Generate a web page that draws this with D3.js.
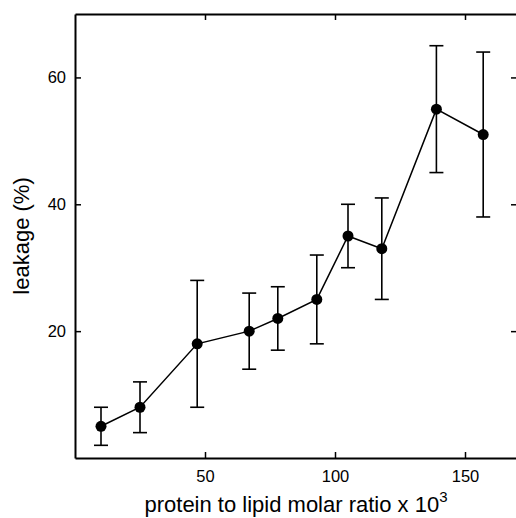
<!DOCTYPE html>
<html>
<head>
<meta charset="utf-8">
<script src="https://cdn.jsdelivr.net/npm/d3@7"></script>
<style>
  html, body { margin: 0; padding: 0; background: #fff; }
  svg { display: block; font-family: "Liberation Sans", Arial, sans-serif; }
</style>
</head>
<body>
<div id="chart"></div>
<script>
// leakage vs protein/lipid ratio, points with error bars
const ratio   = [10, 25, 47, 67, 78, 93, 105, 118, 139, 157];
const leakage = [5, 8, 18, 20, 22, 25, 35, 33, 55, 51];
const errHigh = [8, 12, 28, 26, 27, 32, 40, 41, 65, 64];
const errLow  = [2, 4, 8, 14, 17, 18, 30, 25, 45, 38];
const xTicks = [50, 100, 150];
const yTicks = [20, 40, 60];

const width = 516, height = 518;
const margin = { top: 14, right: -1, bottom: 60, left: 75 };

const points = ratio.map((r, i) => ({ x: r, y: leakage[i], hi: errHigh[i], lo: errLow[i] }));

const x = d3.scaleLinear().domain([0, 170]).range([margin.left, width - margin.right]);
const y = d3.scaleLinear().domain([0, 70]).range([height - margin.bottom, margin.top]);

const svg = d3.select('#chart').append('svg')
  .attr('width', width)
  .attr('height', height);

const tickLen = 6;

// axes, ticks pointing inward on every side
svg.append('g')
  .attr('transform', `translate(0,${y(0)})`)
  .call(d3.axisBottom(x).tickValues(xTicks).tickSizeInner(-tickLen).tickSizeOuter(0).tickPadding(12))
  .call(g => g.selectAll('text').attr('font-size', 16.5).attr('fill', '#000').attr('font-family', null));

svg.append('g')
  .attr('transform', `translate(0,${y(70)})`)
  .call(d3.axisTop(x).tickValues(xTicks).tickSizeInner(-tickLen).tickSizeOuter(0).tickFormat(''));

svg.append('g')
  .attr('transform', `translate(${x(0)},0)`)
  .call(d3.axisLeft(y).tickValues(yTicks).tickSizeInner(-tickLen).tickSizeOuter(0).tickPadding(9))
  .call(g => g.selectAll('text').attr('font-size', 16.5).attr('fill', '#000').attr('font-family', null));

svg.append('g')
  .attr('transform', `translate(${x(170)},0)`)
  .call(d3.axisRight(y).tickValues(yTicks).tickSizeInner(-tickLen).tickSizeOuter(0).tickFormat(''));

svg.selectAll('.domain').attr('stroke', '#000').attr('stroke-width', 2);
svg.selectAll('.tick line').attr('stroke', '#000').attr('stroke-width', 1.5);

// error bars
const capW = 7;
const bars = svg.append('g').attr('stroke', '#000').attr('stroke-width', 1.6);
bars.selectAll('line.err').data(points).join('line')
  .attr('class', 'err')
  .attr('x1', d => x(d.x)).attr('x2', d => x(d.x))
  .attr('y1', d => y(d.lo)).attr('y2', d => y(d.hi));
bars.selectAll('line.cap-hi').data(points).join('line')
  .attr('class', 'cap-hi')
  .attr('x1', d => x(d.x) - capW).attr('x2', d => x(d.x) + capW)
  .attr('y1', d => y(d.hi)).attr('y2', d => y(d.hi));
bars.selectAll('line.cap-lo').data(points).join('line')
  .attr('class', 'cap-lo')
  .attr('x1', d => x(d.x) - capW).attr('x2', d => x(d.x) + capW)
  .attr('y1', d => y(d.lo)).attr('y2', d => y(d.lo));

// connecting line
const line = d3.line().x(d => x(d.x)).y(d => y(d.y));
svg.append('path')
  .datum(points)
  .attr('fill', 'none')
  .attr('stroke', '#000')
  .attr('stroke-width', 1.5)
  .attr('d', line);

// markers
svg.append('g').selectAll('circle').data(points).join('circle')
  .attr('cx', d => x(d.x))
  .attr('cy', d => y(d.y))
  .attr('r', 5.5)
  .attr('fill', '#000');

// axis titles
const xTitle = svg.append('text')
  .attr('x', (x(0) + x(170)) / 2)
  .attr('y', 512)
  .attr('text-anchor', 'middle')
  .attr('font-size', 22)
  .attr('fill', '#000');
xTitle.append('tspan').text('protein to lipid molar ratio x 10');
xTitle.append('tspan').attr('dy', -10).attr('font-size', 15).text('3');

svg.append('text')
  .attr('transform', `translate(29,${(y(0) + y(70)) / 2}) rotate(-90)`)
  .attr('text-anchor', 'middle')
  .attr('font-size', 22)
  .attr('fill', '#000')
  .text('leakage (%)');
</script>
</body>
</html>
